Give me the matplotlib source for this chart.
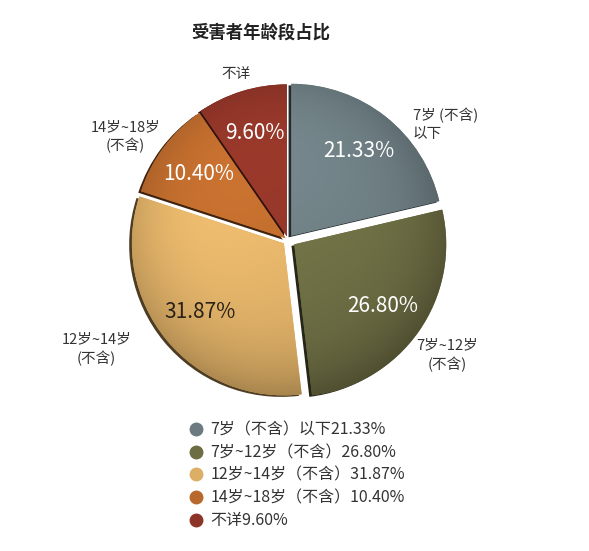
import numpy as np
import matplotlib
matplotlib.use("Agg")
import matplotlib.pyplot as plt
from matplotlib.lines import Line2D
from matplotlib.colors import to_rgb

plt.rcParams['font.family'] = ['Noto Sans CJK SC', 'DejaVu Sans']

title = "受害者年龄段占比"
values = [21.33, 26.80, 31.87, 10.40, 9.60]
slice_labels = ["7岁 (不含)\n以下", "7岁~12岁\n(不含)", "12岁~14岁\n(不含)",
                "14岁~18岁\n(不含)", "不详"]
legend_labels = ["7岁（不含）以下21.33%", "7岁~12岁（不含）26.80%",
                 "12岁~14岁（不含）31.87%", "14岁~18岁（不含）10.40%", "不详9.60%"]
colors = ["#6b7b80", "#6d6d44", "#dcae66", "#b8682c", "#8c3427"]
pct_colors = ["white", "white", "#2a2118", "white", "white"]
explode = [0.035, 0.05, 0.035, 0.02, 0.025]

# where the outside labels sit (data units, pie radius = 1)
label_pos = [(0.82, 0.76, 'left'), (1.05, -0.76, 'center'), (-1.26, -0.72, 'center'),
             (-1.07, 0.68, 'center'), (-0.34, 1.09, 'center')]

XLIM = (-288 / 152, (589 - 288) / 152)
YLIM = ((240 - 551) / 152, 240 / 152)

fig = plt.figure(figsize=(5.89, 5.51), dpi=100)
ax = fig.add_axes([0, 0, 1, 1])
ax.axis('off')

# dark "side" of each slice, drawn a little down-left
shadow, _ = ax.pie(values, radius=1.0, startangle=90, counterclock=False,
                   explode=explode, colors=colors, center=(-0.018, -0.01),
                   wedgeprops=dict(linewidth=0))
for w, c in zip(shadow, colors):
    w.set_facecolor(tuple(np.array(to_rgb(c)) * 0.35))
    w.set_zorder(1)

wedges, texts, autotexts = ax.pie(values, radius=1.0, startangle=90, counterclock=False,
                                  explode=explode, colors=colors, autopct='%.2f%%',
                                  pctdistance=0.71, frame=False,
                                  wedgeprops=dict(linewidth=0),
                                  textprops=dict(fontsize=15))

# soft shading inside every slice
n = 300
gx, gy = np.meshgrid(np.linspace(-1.15, 1.15, n), np.linspace(1.15, -1.15, n))
rr = np.sqrt(gx ** 2 + gy ** 2)
shade = np.clip(1.06 + 0.10 * gy - 0.05 * gx - 0.18 * rr ** 4, 0.6, 1.2)
for w, c in zip(wedges, colors):
    w.set_zorder(2)
    img = np.clip(np.array(to_rgb(c))[None, None, :] * shade[:, :, None], 0, 1)
    im = ax.imshow(img, extent=(-1.15, 1.15, -1.15, 1.15), zorder=2.5,
                   interpolation='bilinear', aspect='auto')
    im.set_clip_path(w)
ax.set_xlim(*XLIM)
ax.set_ylim(*YLIM)

for t, c in zip(autotexts, pct_colors):
    t.set_color(c)
    t.set_zorder(5)

for (x, y, ha), lab in zip(label_pos, slice_labels):
    ax.text(x, y, lab, ha=ha, va='center', fontsize=10.5, color='#333333',
            linespacing=1.35, zorder=5)

fig.text(261 / 589, 1 - 33 / 551, title, ha='center', va='center',
         fontsize=12.5, fontweight='bold', color='#222222')

handles = [Line2D([], [], marker='o', linestyle='', markersize=9,
                  markerfacecolor=c, markeredgecolor=c) for c in colors]
fig.legend(handles, legend_labels, loc='upper left',
           bbox_to_anchor=(172 / 589, 1 - 407 / 551), frameon=False,
           fontsize=11.5, labelspacing=0.36, handletextpad=0.3, handlelength=1.2,
           labelcolor='#333333')

fig.savefig("out.png", dpi=100, facecolor='white')
